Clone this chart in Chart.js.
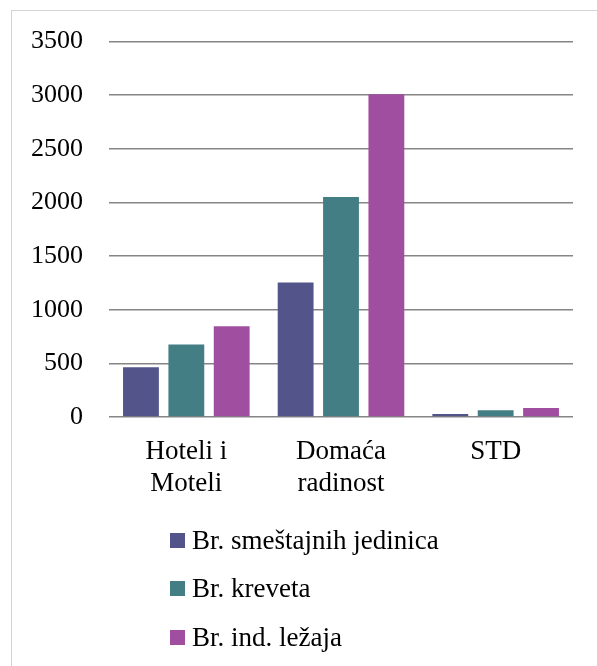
<!DOCTYPE html>
<html>
<head>
<meta charset="utf-8">
<script src="https://cdn.jsdelivr.net/npm/chart.js@4.4.0/dist/chart.umd.min.js"></script>
<style>
  html, body { margin: 0; padding: 0; background: #fff; }
  #frame {
    position: absolute; left: 11px; top: 10px; width: 586px; height: 656px;
    border-top: 1px solid #d4d4d4; border-left: 1px solid #d4d4d4; box-sizing: border-box;
  }
  #wrap { position: absolute; left: 0; top: -11px; width: 586px; height: 530px; }
  #legend { position: absolute; left: 158px; top: 505px; font-family: "Liberation Serif", serif; font-size: 27px; color: #000; }
  .item { display: flex; align-items: center; height: 48.5px; }
  .box { width: 15px; height: 15px; margin-right: 7px; }
</style>
</head>
<body>
<div id="frame">
  <div id="wrap"><canvas id="chart"></canvas></div>
  <div id="legend"></div>
</div>
<script>
// --- données ---
const categories = [['Hoteli i', 'Moteli'], ['Domaća', 'radinost'], 'STD'];
const seriesNames = ['Br. smeštajnih jedinica', 'Br. kreveta', 'Br. ind. ležaja'];
const smestajneJedinice = [465, 1255, 28];
const kreveti = [676, 2051, 62];
const lezaji = [846, 3010, 84];
const colors = ['#53548a', '#437e84', '#a04fa0'];
const yTicks = [0, 500, 1000, 1500, 2000, 2500, 3000, 3500];

const serif = '"Liberation Serif", serif';

const ctx = document.getElementById('chart').getContext('2d');
const chart = new Chart(ctx, {
    type: 'bar',
    data: {
        labels: categories,
        datasets: [smestajneJedinice, kreveti, lezaji].map((d, i) => ({
            label: seriesNames[i],
            data: d,
            backgroundColor: colors[i],
            categoryPercentage: 0.88,
            barPercentage: 0.79
        }))
    },
    options: {
        responsive: true,
        maintainAspectRatio: false,
        animation: false,
        layout: { padding: { top: 19, right: 25, left: 0, bottom: 0 } },
        plugins: {
            legend: { display: false },
            tooltip: { enabled: false }
        },
        scales: {
            x: {
                grid: { display: false },
                border: { display: false },
                ticks: {
                    color: '#000',
                    font: { family: serif, size: 27, lineHeight: 1.18 },
                    padding: 11,
                    maxRotation: 0
                },
                afterFit: (s) => { s.height = 113; }
            },
            y: {
                min: 0,
                max: 3500,
                afterBuildTicks: (s) => { s.ticks = yTicks.map(v => ({ value: v })); },
                grid: { color: '#858585', lineWidth: 1.5, drawTicks: false },
                border: { display: false },
                ticks: {
                    color: '#000',
                    font: { family: serif, size: 26 },
                    padding: 26,
                    callback: (v) => String(v)
                },
                afterFit: (s) => { s.width = 97; }
            }
        }
    }
});

// légende verticale en HTML, construite depuis les datasets
const legend = document.getElementById('legend');
chart.data.datasets.forEach(ds => {
    const row = document.createElement('div');
    row.className = 'item';
    const box = document.createElement('span');
    box.className = 'box';
    box.style.background = ds.backgroundColor;
    const txt = document.createElement('span');
    txt.textContent = ds.label;
    row.appendChild(box);
    row.appendChild(txt);
    legend.appendChild(row);
});
</script>
</body>
</html>
